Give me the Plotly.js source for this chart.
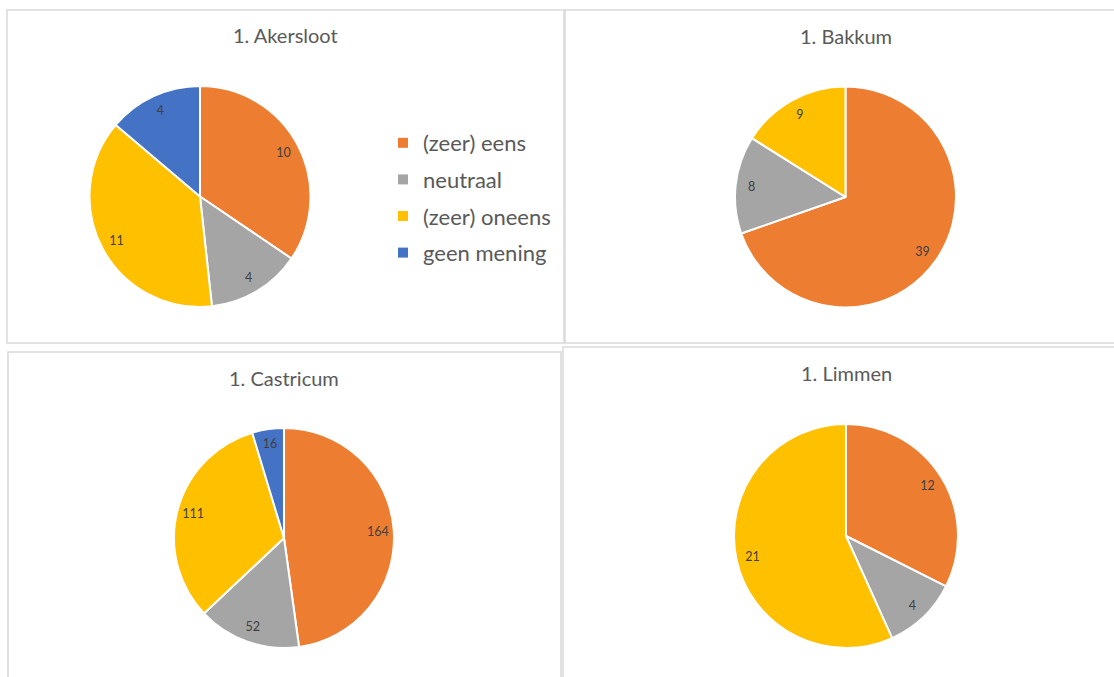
<!DOCTYPE html>
<html>
<head>
<meta charset="utf-8">
<script src="https://cdn.plot.ly/plotly-3.0.1.min.js"></script>
<style>
html,body{margin:0;padding:0;background:#fff;}
#chart{width:1114px;height:677px;}
</style>
</head>
<body>
<div id="chart"></div>
<script>
// ---- data ----
const categories = ['(zeer) eens', 'neutraal', '(zeer) oneens', 'geen mening'];
const akersloot = [10, 4, 11, 4];
const bakkum = [39, 8, 9, 0];
const castricum = [164, 52, 111, 16];
const limmen = [12, 4, 21, 0];
const titles = ['1. Akersloot', '1. Bakkum', '1. Castricum', '1. Limmen'];

// ---- styling ----
const colors = ['#ED7D31', '#A5A5A5', '#FFC000', '#4472C4'];
const W = 1114, H = 677;
const FONT = 'Lato, "Open Sans", sans-serif';

// pie placement in pixels: centre x, centre y, radius
const pies = [
  {vals: akersloot, cx: 200, cy: 196.5, r: 110.5},
  {vals: bakkum, cx: 845.5, cy: 197, r: 110.5},
  {vals: castricum, cx: 284, cy: 538, r: 110},
  {vals: limmen, cx: 846, cy: 536, r: 112}
];
const titlePos = [[285, 35], [846, 36], [284, 378], [846, 373]];
const panels = [[7, 10, 564, 343], [565, 10, 1120, 343], [8, 352, 561, 690], [563, 347, 1120, 690]];

const traces = [];
pies.forEach(function (p) {
  const labels = [], values = [], cols = [];
  p.vals.forEach(function (v, i) {
    if (v > 0) { labels.push(categories[i]); values.push(v); cols.push(colors[i]); }
  });
  const domain = {
    x: [(p.cx - p.r) / W, (p.cx + p.r) / W],
    y: [1 - (p.cy + p.r) / H, 1 - (p.cy - p.r) / H]
  };
  // filled slices
  traces.push({
    type: 'pie',
    labels: labels, values: values,
    sort: false, direction: 'clockwise', rotation: 0,
    marker: {colors: cols, line: {color: '#ffffff', width: 2}},
    textinfo: 'none',
    hoverinfo: 'label+value',
    showlegend: false,
    domain: domain
  });
  // value labels placed near the rim (transparent ring on top)
  traces.push({
    type: 'pie',
    labels: labels, values: values,
    sort: false, direction: 'clockwise', rotation: 0,
    hole: 0.71,
    marker: {colors: labels.map(function () { return 'rgba(0,0,0,0)'; }), line: {width: 0}},
    textinfo: 'value',
    textposition: 'inside',
    insidetextorientation: 'horizontal',
    textfont: {family: FONT, size: 12.5, color: '#404040'},
    hoverinfo: 'skip',
    showlegend: false,
    domain: domain
  });
});

// legend entries (one per category)
categories.forEach(function (c, i) {
  traces.push({
    type: 'scatter',
    x: [null], y: [null],
    mode: 'markers',
    name: c,
    legendgroup: 'g' + i,
    marker: {symbol: 'square', size: 10, color: colors[i]},
    showlegend: true,
    hoverinfo: 'skip'
  });
});

const annotations = titles.map(function (t, i) {
  return {
    text: t, xref: 'paper', yref: 'paper',
    x: titlePos[i][0] / W, y: 1 - titlePos[i][1] / H,
    xanchor: 'center', yanchor: 'middle', showarrow: false,
    font: {family: FONT, size: 20, color: '#595959'}
  };
});

const shapes = panels.map(function (b) {
  return {
    type: 'rect', xref: 'paper', yref: 'paper',
    x0: b[0] / W, x1: b[2] / W, y0: 1 - b[3] / H, y1: 1 - b[1] / H,
    line: {color: '#D9D9D9', width: 1.5}, fillcolor: 'rgba(0,0,0,0)', layer: 'below'
  };
});

const layout = {
  width: W, height: H,
  margin: {l: 0, r: 0, t: 0, b: 0},
  paper_bgcolor: '#ffffff', plot_bgcolor: '#ffffff',
  xaxis: {visible: false, range: [0, 1]},
  yaxis: {visible: false, range: [0, 1]},
  showlegend: true,
  legend: {
    x: 383 / W, y: 1 - 122 / H, xanchor: 'left', yanchor: 'top',
    font: {family: FONT, size: 22, color: '#595959'},
    traceorder: 'grouped', tracegroupgap: 5,
    bgcolor: 'rgba(0,0,0,0)', borderwidth: 0
  },
  annotations: annotations,
  shapes: shapes
};

Plotly.newPlot('chart', traces, layout, {displayModeBar: false, staticPlot: true});
</script>
</body>
</html>
